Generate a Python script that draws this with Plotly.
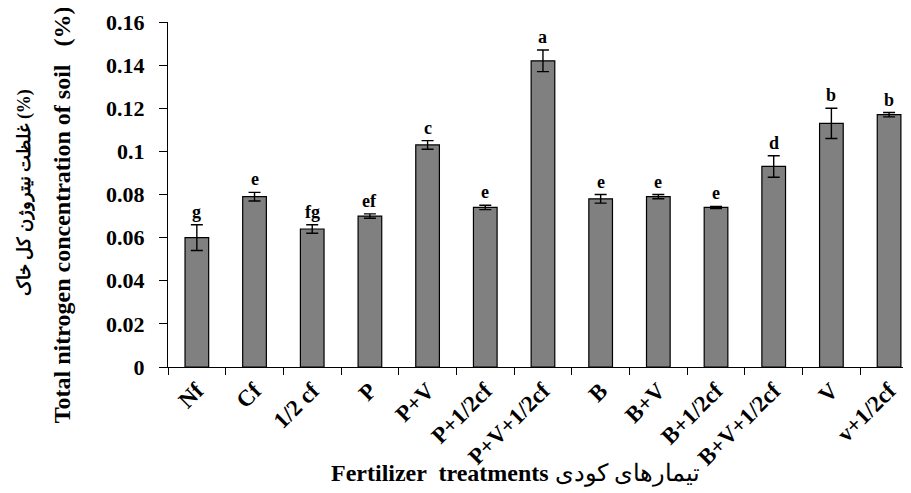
import plotly.graph_objects as go

categories = ["Nf", "Cf", "1/2 cf", "P", "P+V", "P+1/2cf", "P+V+1/2cf",
              "B", "B+V", "B+1/2cf", "B+V+1/2cf", "V", "v+1/2cf"]
values = [0.060, 0.079, 0.064, 0.070, 0.103, 0.074, 0.142,
          0.078, 0.079, 0.074, 0.093, 0.113, 0.117]
errors = [0.006, 0.002, 0.002, 0.001, 0.002, 0.001, 0.005,
          0.002, 0.001, 0.0005, 0.005, 0.007, 0.001]
letters = ["g", "e", "fg", "ef", "c", "e", "a", "e", "e", "e", "d", "b", "b"]
y_ticks = [0, 0.02, 0.04, 0.06, 0.08, 0.1, 0.12, 0.14, 0.16]
y_tick_labels = ["0", "0.02", "0.04", "0.06", "0.08", "0.1", "0.12", "0.14", "0.16"]

serif = "Liberation Serif, Times New Roman, serif"

fig = go.Figure()
fig.add_trace(go.Bar(
    x=categories, y=values,
    marker=dict(color="#808080", line=dict(color="#000000", width=1.2)),
    width=0.41,
    error_y=dict(type="data", array=errors, visible=True,
                 color="#000000", thickness=1.4, width=6),
))

for c, v, e, l in zip(categories, values, errors, letters):
    fig.add_annotation(x=c, y=v + e, text="<b>" + l + "</b>", showarrow=False,
                       yanchor="bottom", yshift=1,
                       font=dict(family=serif, size=18, color="#000000"))

# x-axis title
fig.add_annotation(
    xref="paper", yref="paper", x=0.468, y=-0.31, xanchor="center", yanchor="middle",
    text="<b>Fertilizer  treatments</b> تیمارهای کودی", showarrow=False,
    font=dict(family=serif, size=24, color="#000000"))

# y-axis title (two lines)
fig.add_annotation(
    xref="paper", yref="paper", x=0, y=0.44, xshift=-106, textangle=-90,
    xanchor="center", yanchor="middle", showarrow=False,
    text="<b>Total nitrogen concentration of soil   (%)</b>",
    font=dict(family=serif, size=24, color="#000000"))
fig.add_annotation(
    xref="paper", yref="paper", x=0, y=0.504, xshift=-144, textangle=-90,
    xanchor="center", yanchor="middle", showarrow=False,
    text="<b>غلظت نیتروژن کل خاک (%)</b>",
    font=dict(family=serif, size=18, color="#000000"))

fig.update_layout(
    width=911, height=493,
    margin=dict(l=160, r=8, t=14, b=134),
    plot_bgcolor="white", paper_bgcolor="white",
    showlegend=False,
    font=dict(family=serif, color="#000000"),
    xaxis=dict(
        range=[-0.5, 12.38],
        tickangle=-45,
        automargin=False,
        tickfont=dict(family=serif, size=23, color="#000000", weight="bold"),
        showline=True, linecolor="#000000", linewidth=1.2,
        ticks="outside", ticklen=7, tickcolor="#000000",
        tickson="boundaries",
        showgrid=False,
    ),
    yaxis=dict(
        range=[0, 0.16],
        automargin=False,
        tickvals=y_ticks, ticktext=y_tick_labels,
        tickfont=dict(family=serif, size=22, color="#000000", weight="bold"),
        showline=True, linecolor="#000000", linewidth=1.2,
        ticks="outside", ticklen=8, tickcolor="#000000",
        ticklabelstandoff=10,
        showgrid=False, zeroline=False,
    ),
)

fig.write_html("out.html")
